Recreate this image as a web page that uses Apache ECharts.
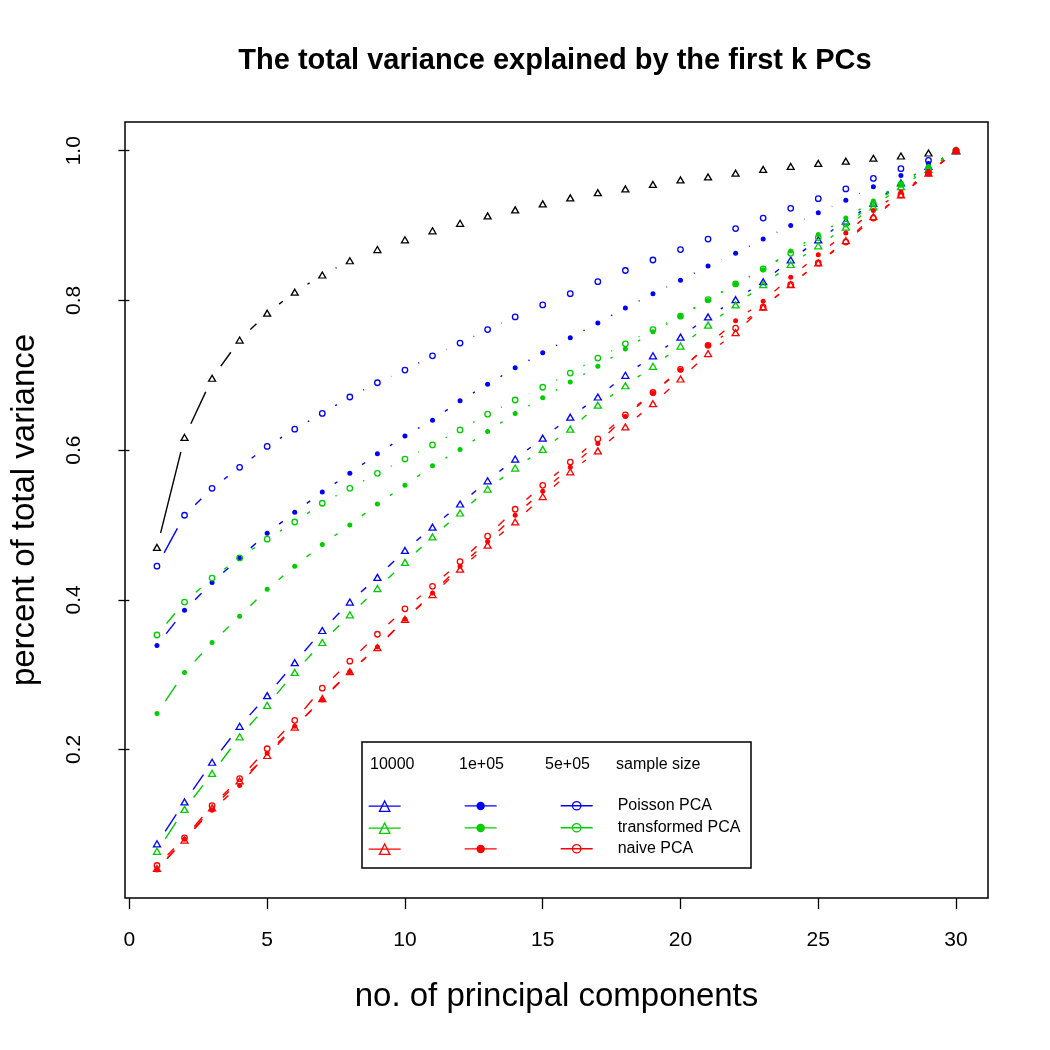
<!DOCTYPE html>
<html>
<head>
<meta charset="utf-8">
<script src="https://cdn.jsdelivr.net/npm/echarts@6/dist/echarts.min.js"></script>
<style>
  html, body { margin: 0; padding: 0; background: #fff; }
  #main-chart { width: 1050px; height: 1050px; }
</style>
</head>
<body>
<div id="main-chart"></div>
<script>
// number of principal components k
const components = [1, 2, 3, 4, 5, 6, 7, 8, 9, 10, 11, 12, 13, 14, 15, 16, 17, 18, 19, 20, 21, 22, 23, 24, 25, 26, 27, 28, 29, 30]

// black triangles (not in legend)
const blackRef = [0.470, 0.617, 0.696, 0.747, 0.783, 0.811, 0.834, 0.853, 0.868, 0.881, 0.893, 0.903, 0.913, 0.921, 0.929, 0.937, 0.944, 0.949, 0.955, 0.961, 0.965, 0.970, 0.975, 0.979, 0.983, 0.986, 0.990, 0.993, 0.997, 1.000]

const poisson10k = [0.074, 0.130, 0.183, 0.231, 0.272, 0.316, 0.359, 0.397, 0.430, 0.466, 0.497, 0.528, 0.559, 0.588, 0.616, 0.644, 0.671, 0.700, 0.726, 0.751, 0.778, 0.801, 0.825, 0.854, 0.881, 0.906, 0.930, 0.957, 0.979, 1.000]
const poisson1e5 = [0.339, 0.386, 0.423, 0.456, 0.489, 0.517, 0.544, 0.569, 0.595, 0.619, 0.640, 0.666, 0.688, 0.710, 0.730, 0.750, 0.770, 0.790, 0.809, 0.827, 0.846, 0.863, 0.882, 0.900, 0.917, 0.934, 0.952, 0.967, 0.983, 1.000]
const poisson5e5 = [0.445, 0.513, 0.549, 0.577, 0.605, 0.628, 0.649, 0.671, 0.690, 0.707, 0.726, 0.743, 0.761, 0.778, 0.794, 0.809, 0.825, 0.840, 0.854, 0.868, 0.882, 0.896, 0.910, 0.923, 0.936, 0.949, 0.963, 0.976, 0.987, 1.000]

const trans10k = [0.064, 0.120, 0.168, 0.217, 0.259, 0.303, 0.343, 0.380, 0.415, 0.450, 0.484, 0.516, 0.548, 0.576, 0.601, 0.628, 0.660, 0.686, 0.712, 0.739, 0.767, 0.794, 0.821, 0.848, 0.873, 0.898, 0.925, 0.952, 0.975, 1.000]
const trans1e5 = [0.248, 0.303, 0.343, 0.378, 0.414, 0.445, 0.474, 0.500, 0.528, 0.553, 0.579, 0.601, 0.625, 0.649, 0.670, 0.691, 0.712, 0.735, 0.758, 0.779, 0.800, 0.822, 0.841, 0.866, 0.888, 0.910, 0.933, 0.957, 0.979, 1.000]
const trans5e5 = [0.353, 0.397, 0.429, 0.456, 0.481, 0.504, 0.529, 0.549, 0.569, 0.588, 0.607, 0.627, 0.648, 0.667, 0.684, 0.703, 0.723, 0.742, 0.761, 0.779, 0.801, 0.822, 0.842, 0.863, 0.884, 0.902, 0.929, 0.955, 0.976, 1.000]

const naive10k = [0.041, 0.079, 0.122, 0.158, 0.192, 0.230, 0.268, 0.304, 0.336, 0.374, 0.407, 0.441, 0.473, 0.504, 0.538, 0.571, 0.599, 0.631, 0.662, 0.695, 0.729, 0.757, 0.791, 0.821, 0.850, 0.880, 0.912, 0.941, 0.970, 1.000]
const naive1e5 = [0.039, 0.080, 0.119, 0.152, 0.195, 0.231, 0.266, 0.304, 0.337, 0.374, 0.409, 0.445, 0.478, 0.513, 0.545, 0.577, 0.609, 0.645, 0.676, 0.707, 0.740, 0.773, 0.799, 0.831, 0.861, 0.890, 0.920, 0.945, 0.970, 1.000]
const naive5e5 = [0.045, 0.082, 0.125, 0.161, 0.201, 0.239, 0.282, 0.318, 0.354, 0.388, 0.418, 0.451, 0.485, 0.521, 0.553, 0.584, 0.615, 0.647, 0.677, 0.708, 0.740, 0.763, 0.791, 0.821, 0.850, 0.878, 0.910, 0.941, 0.970, 1.000]

const xTicks = [0, 5, 10, 15, 20, 25, 30]
const yTicks = [0.2, 0.4, 0.6, 0.8, 1.0]
const sampleSizes = ['10000', '1e+05', '5e+05']
const methods = ['Poisson PCA', 'transformed PCA', 'naive PCA']
const methodColors = ['#0000ff', '#00cd00', '#ff0000']
const valuesByMethod = [
  [poisson10k, poisson1e5, poisson5e5],
  [trans10k, trans1e5, trans5e5],
  [naive10k, naive1e5, naive5e5]
]

const FONT = 'Liberation Sans, Helvetica, Arial, sans-serif'
const GAP = 15 // R type = "b": lines stop short of the points
const legendCols = [368, 464, 560]
const legendRows = [805, 827, 848]

// pch 2, 20, 1
const marks = [
  { symbol: 'triangle', size: [7, 6], filled: false, legendH: 13, nudge: 0 },
  { symbol: 'circle', size: 5, filled: true, legendH: 10.5, nudge: 2 },
  { symbol: 'circle', size: 5.5, filled: false, legendH: 10.5, nudge: -2 }
]

const seriesName = (m, s) => methods[m] + ' / ' + sampleSizes[s]

const segmentRenderer = color => (params, api) => {
  const a = api.coord([api.value(0), api.value(1)])
  const b = api.coord([api.value(2), api.value(3)])
  const dx = b[0] - a[0]
  const dy = b[1] - a[1]
  const len = Math.hypot(dx, dy)
  if (len <= 2 * GAP) return
  const ux = dx / len
  const uy = dy / len
  return {
    type: 'line',
    shape: { x1: a[0] + ux * GAP, y1: a[1] + uy * GAP, x2: b[0] - ux * GAP, y2: b[1] - uy * GAP },
    style: { stroke: color, lineWidth: 1.4 }
  }
}

const makeSeries = (name, ys, color, mark) => {
  const pts = components.map((x, i) => [x, ys[i]])
  const segs = pts.slice(0, -1).map((p, i) => [p[0], p[1], pts[i + 1][0], pts[i + 1][1]])
  return [
    {
      type: 'custom',
      name: name + ' lines',
      data: segs,
      encode: { x: [0, 2], y: [1, 3] },
      renderItem: segmentRenderer(color),
      silent: true,
      z: 2
    },
    {
      type: 'line',
      name: name,
      data: pts,
      symbol: mark.symbol,
      symbolSize: mark.size,
      showAllSymbol: true,
      lineStyle: { opacity: 0, color: color },
      itemStyle: { color: mark.filled ? color : 'none', borderColor: color, borderWidth: mark.filled ? 0 : 1.3 },
      emphasis: { disabled: true },
      silent: true,
      z: 3
    }
  ]
}

const series = [
  ...makeSeries('reference', blackRef, '#000', marks[0])
]
methods.forEach((m, mi) => {
  sampleSizes.forEach((s, si) => {
    series.push(...makeSeries(seriesName(mi, si), valuesByMethod[mi][si], methodColors[mi], marks[si]))
  })
})

// one legend per entry so every row sits exactly where R put it
const legends = []
sampleSizes.forEach((s, si) => {
  methods.forEach((m, mi) => {
    const h = marks[si].legendH
    legends.push({
      orient: 'vertical',
      left: legendCols[si],
      top: legendRows[mi] - h / 2 + marks[si].nudge,
      padding: 0,
      itemWidth: 32,
      itemHeight: h,
      selectedMode: false,
      textStyle: { fontSize: 16, lineHeight: h, color: '#000', fontFamily: FONT, padding: [0, 0, 0, 20] },
      formatter: name => si === 2 ? name.split(' / ')[0] : '',
      data: [{
        name: seriesName(mi, si),
        itemStyle: {
          color: marks[si].filled ? methodColors[mi] : 'none',
          borderColor: methodColors[mi],
          borderWidth: marks[si].filled ? 0 : 1.3,
          opacity: 1
        },
        lineStyle: { color: methodColors[mi], width: 1.3, opacity: 1, type: 'solid' }
      }]
    })
  })
})

const headerText = (x, text) => ({
  type: 'text',
  left: x,
  top: 757,
  style: { text: text, fontSize: 16, fill: '#000', fontFamily: FONT }
})

const option = {
  animation: false,
  backgroundColor: '#fff',
  title: {
    text: 'The total variance explained by the first k PCs',
    left: 555,
    top: 46,
    textAlign: 'center',
    padding: 0,
    textStyle: { fontSize: 29, fontWeight: 'bold', color: '#000', fontFamily: FONT }
  },
  grid: {
    left: 123, right: 62, top: 122, bottom: 152,
    show: true, borderColor: '#000', borderWidth: 1.5, backgroundColor: 'transparent'
  },
  xAxis: {
    type: 'value',
    min: -0.16,
    max: 31.16,
    splitLine: { show: false },
    axisLine: { show: false },
    axisTick: { customValues: xTicks, length: 11, lineStyle: { color: '#000', width: 1.3 } },
    axisLabel: { customValues: xTicks, fontSize: 21, color: '#000', fontFamily: FONT, margin: 32 },
    name: 'no. of principal components',
    nameLocation: 'middle',
    nameGap: 82,
    nameTextStyle: { fontSize: 33, color: '#000', fontFamily: FONT }
  },
  yAxis: {
    type: 'value',
    min: 0.0016,
    max: 1.0384,
    splitLine: { show: false },
    axisLine: { show: false },
    axisTick: { customValues: yTicks, length: 11, lineStyle: { color: '#000', width: 1.3 } },
    axisLabel: {
      customValues: yTicks, rotate: 90, fontSize: 21, color: '#000', fontFamily: FONT, margin: 40,
      formatter: v => v.toFixed(1)
    },
    name: 'percent of total variance',
    nameLocation: 'middle',
    nameGap: 84,
    nameTextStyle: { fontSize: 33, color: '#000', fontFamily: FONT }
  },
  legend: legends,
  graphic: [
    {
      type: 'rect',
      shape: { x: 362, y: 742, width: 389, height: 126 },
      style: { fill: 'none', stroke: '#000', lineWidth: 1.5 },
      z: 10
    },
    headerText(370, '10000'),
    headerText(459, '1e+05'),
    headerText(545, '5e+05'),
    headerText(616, 'sample size')
  ],
  series: series
}

const chart = echarts.init(document.getElementById('main-chart'), null, { renderer: 'canvas' })
chart.setOption(option)
</script>
</body>
</html>
